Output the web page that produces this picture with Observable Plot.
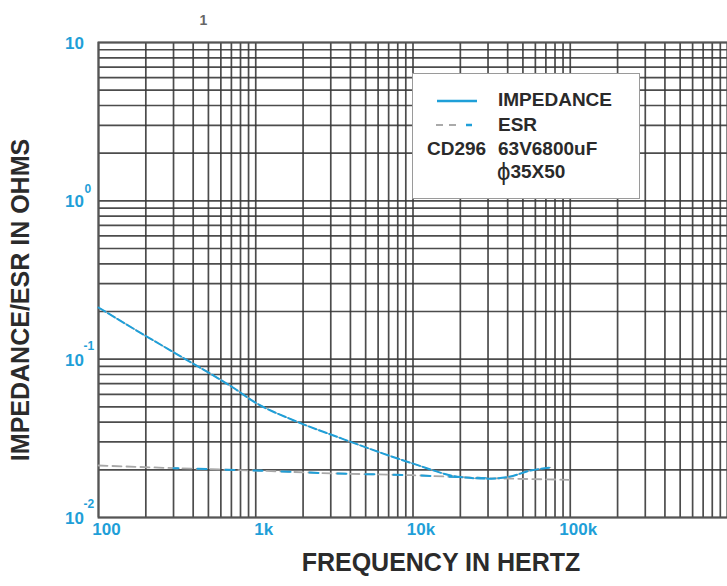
<!DOCTYPE html>
<html>
<head>
<meta charset="utf-8">
<script src="https://cdn.jsdelivr.net/npm/d3@7"></script>
<script src="https://cdn.jsdelivr.net/npm/@observablehq/plot@0.6"></script>
<style>
  body { margin: 0; background: #fff; font-family: "Liberation Sans", Arial, sans-serif; }
  #wrap { position: relative; width: 727px; height: 586px; }
  #legend { position: absolute; left: 412px; top: 73px; width: 226px; height: 124px;
            background: #fff; border: 1.5px solid #9a9a9a; }
  #legend .t { position: absolute; font-weight: bold; font-size: 19px; color: #2a2a2a; line-height: 20px; white-space: nowrap; }
  #legend svg { position: absolute; }
</style>
</head>
<body>
<div id="wrap"></div>
<script>
// ---- data ----
const impedanceFreq = [100, 200, 370, 720, 1000, 1750, 3500, 6000, 10000, 20000, 30000, 40000, 56000, 75000];
const impedanceOhms = [0.212, 0.14, 0.098, 0.066, 0.053, 0.041, 0.0316, 0.026, 0.0219, 0.018, 0.0176, 0.018, 0.0198, 0.0207];
const esrFreq = [100, 300, 1000, 3000, 10000, 30000, 100000];
const esrOhms = [0.0213, 0.0205, 0.0198, 0.019, 0.0185, 0.0177, 0.0173];

const xTickValues = [100, 1000, 10000, 100000];
const xTickLabels = ["100", "1k", "10k", "100k"];
const yTickValues = [10, 1, 0.1, 0.01];
const yTickBase = ["10", "10", "10", "10"];
const yTickExponents = ["", "0", "-1", "-2"];
const gridMultipliers = [1, 2, 3, 4, 5, 6, 7, 8, 9];
const xDecades = [100, 1000, 10000, 100000];
const yDecades = [0.01, 0.1, 1];
const yTitle = "IMPEDANCE/ESR IN OHMS";
const xTitle = "FREQUENCY IN HERTZ";

// ---- derived tables ----
const impedance = impedanceFreq.map((f, i) => ({f, z: impedanceOhms[i]}));
const esr = esrFreq.map((f, i) => ({f, z: esrOhms[i]}));
const esrMid = esr.filter(d => d.f >= 300 && d.f <= 30000);
const xGrid = xDecades.flatMap(d => gridMultipliers.map(m => d * m)).concat([1e6]);
const yGrid = yDecades.flatMap(d => gridMultipliers.map(m => d * m)).concat([10]);
const yTicks = yTickValues.map((v, i) => ({v, base: yTickBase[i], exp: yTickExponents[i]}));
const xTicks = xTickValues.map((v, i) => ({v, label: xTickLabels[i]}));

const blue = "#1f9fd8";
const gridColor = "#383838";

const chart = Plot.plot({
  width: 727,
  height: 586,
  marginTop: 42,
  marginBottom: 69,
  marginLeft: 98,
  marginRight: 0,
  style: {background: "#fff", fontFamily: "'Liberation Sans', Arial, sans-serif"},
  x: {type: "log", domain: [100, 1e6], axis: null},
  y: {type: "log", domain: [0.01, 10], axis: null},
  marks: [
    Plot.ruleX(xGrid, {x: d => d, stroke: gridColor, strokeWidth: 1.7, strokeOpacity: 0.9}),
    Plot.ruleY(yGrid, {y: d => d, stroke: gridColor, strokeWidth: 1.7, strokeOpacity: 0.9}),
    Plot.frame({stroke: "#555", strokeWidth: 2}),
    // ESR (grey dashed, partly blue)
    Plot.line(esr, {x: "f", y: "z", stroke: "#a8a8a8", strokeWidth: 1.8, strokeDasharray: "9,5"}),
    Plot.line(esrMid, {x: "f", y: "z", stroke: blue, strokeWidth: 2, strokeDasharray: "9,19", strokeDashoffset: 4}),
    // Impedance (blue, with grey in the gaps)
    Plot.line(impedance, {x: "f", y: "z", stroke: "#b0b0b0", strokeWidth: 1.2, curve: "monotone-x"}),
    Plot.line(impedance, {x: "f", y: "z", stroke: blue, strokeWidth: 2, strokeDasharray: "8,3", curve: "monotone-x"}),
    // y tick labels
    Plot.text(yTicks, {x: 100, y: "v", text: "base", dx: -24, dy: 1, textAnchor: "middle",
      fill: blue, fontSize: 17, fontWeight: "bold"}),
    Plot.text(yTicks.filter(d => d.exp === "0"), {x: 100, y: "v", text: "exp", dx: -14, dy: -12, textAnchor: "start",
      fill: blue, fontSize: 12, fontWeight: "bold"}),
    Plot.text(yTicks.filter(d => d.exp.startsWith("-")), {x: 100, y: "v", text: "exp", dx: -15, dy: -13, textAnchor: "start",
      fill: blue, fontSize: 12, fontWeight: "bold"}),
    // x tick labels
    Plot.text(xTicks, {x: "v", y: 0.01, text: "label", dx: 8, dy: 12, textAnchor: "middle",
      fill: blue, fontSize: 17, fontWeight: "bold"}),
    // stray "1" above chart (exponent of the top label)
    Plot.text(["1"], {frameAnchor: "top-left", text: d => d, dx: 101, dy: -27, fill: "#666", fontSize: 14, fontWeight: "bold"}),
    // axis titles
    Plot.text([yTitle], {frameAnchor: "left", text: d => d, rotate: -90, textAnchor: "middle", dx: -78, dy: 20,
      fill: "#2b2b2b", fontSize: 25, fontWeight: "bold"}),
    Plot.text([xTitle], {frameAnchor: "bottom", text: d => d, textAnchor: "middle", dx: 28, dy: 53,
      fill: "#2b2b2b", fontSize: 25, fontWeight: "bold"})
  ]
});

const wrap = document.getElementById("wrap");
wrap.appendChild(chart);

// legend overlay (inside the plot area)
const legend = document.createElement("div");
legend.id = "legend";
legend.innerHTML = `
  <svg style="left:23px;top:25px" width="42" height="4"><line x1="1" y1="2" x2="41" y2="2" stroke="${blue}" stroke-width="2.5"/></svg>
  <div class="t" style="left:85px;top:16px">IMPEDANCE</div>
  <svg style="left:22px;top:49px" width="42" height="4">
    <line x1="1" y1="2" x2="8" y2="2" stroke="#aaa" stroke-width="2"/>
    <line x1="14" y1="2" x2="21" y2="2" stroke="#aaa" stroke-width="2"/>
    <line x1="31" y1="2" x2="37" y2="2" stroke="${blue}" stroke-width="2.5"/>
  </svg>
  <div class="t" style="left:85px;top:41px">ESR</div>
  <div class="t" style="left:14px;top:65px">CD296</div>
  <div class="t" style="left:85px;top:65px">63V6800uF</div>
  <div class="t" style="left:84px;top:88px"><span style="font-weight:normal;font-size:24px;vertical-align:-2px">ϕ</span>35X50</div>
`;
wrap.appendChild(legend);
</script>
</body>
</html>
